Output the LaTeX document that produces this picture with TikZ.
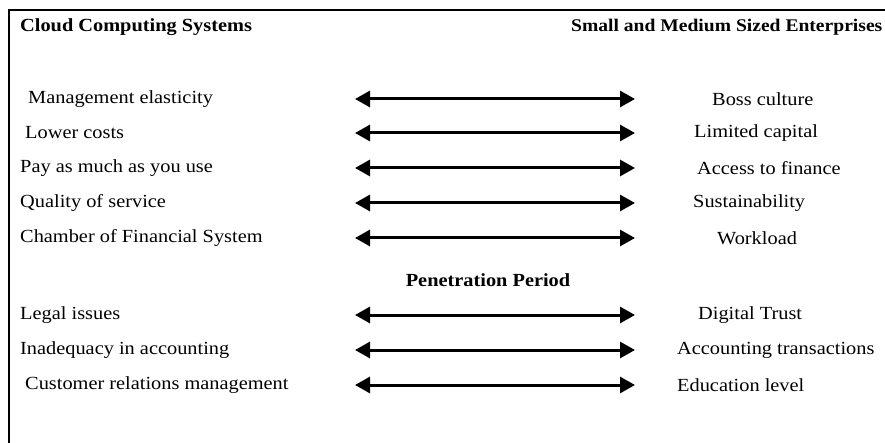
\documentclass[tikz,border=0pt]{standalone}
\usepackage{fontspec}
\setmainfont[FakeStretch=1.1]{Liberation Serif}
\usetikzlibrary{arrows.meta}
\begin{document}
\begin{tikzpicture}[x=1pt,y=-1pt,
  lbl/.style={anchor=west,inner sep=0pt,font=\fontsize{18.5}{22}\selectfont},
  hdr/.style={anchor=west,inner sep=0pt,font=\fontsize{18.5}{22}\selectfont\bfseries},
  biarrow/.style={line width=3pt,{Triangle[length=15pt,width=16pt]}-{Triangle[length=15pt,width=16pt]}}]
\useasboundingbox (0,0) rectangle (885,443);
\fill[white] (0,0) rectangle (885,443);
\draw[line width=2pt] (9,445) -- (9,10) -- (890,10);
\node[hdr] (h1) at (20,27) {Cloud Computing Systems};
\node[hdr,font=\fontsize{17.8}{22}\selectfont\bfseries] (h2) at (571,27) {Small and Medium Sized Enterprises};
\node[hdr,anchor=center] (pp) at (488,280) {Penetration Period};
\foreach \i/\y/\lx/\ltext/\rx/\rtext in {
  1/99/28/Management elasticity/712/Boss culture,
  2/133/25/Lower costs/694/Limited capital,
  3/168/20/Pay as much as you use/697/Access to finance,
  4/203/20/Quality of service/693/Sustainability,
  5/238/20/Chamber of Financial System/717/Workload,
  6/315/20/Legal issues/698/Digital Trust,
  7/350/20/Inadequacy in accounting/677/Accounting transactions,
  8/385/25/Customer relations management/677/Education level}{
  \node[lbl] (l\i) at (\lx,\y) {\ltext};
  \node[lbl] (r\i) at (\rx,\y) {\rtext};
  \coordinate (a\i) at (355,\y);
  \coordinate (b\i) at (635,\y);
  \draw[biarrow] (a\i) -- (b\i);
}
\end{tikzpicture}
\end{document}
